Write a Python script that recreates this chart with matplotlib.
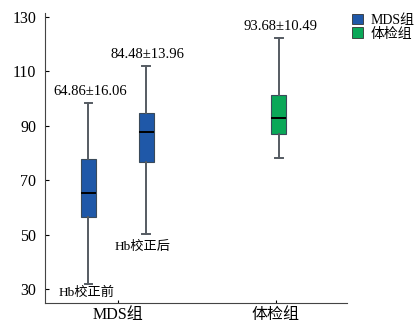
import matplotlib
matplotlib.use("Agg")
import matplotlib.pyplot as plt
from matplotlib.patches import Patch

plt.rcParams['font.family'] = ['Liberation Serif', 'Noto Sans CJK SC', 'DejaVu Sans']

# box statistics (Hb before, Hb after, healthy)
labels = ['Hb校正前', 'Hb校正后', '体检组']
whislo = [32.1, 50.2, 78.3]
q1 = [56.6, 76.6, 87.2]
med = [65.3, 87.6, 92.9]
q3 = [77.8, 94.6, 101.3]
whishi = [98.4, 112.1, 122.4]
mean_sd = ['64.86±16.06', '84.48±13.96', '93.68±10.49']
positions = [0.816, 1.18, 2.02]
colors = ['#1f58a8', '#1f58a8', '#0aa858']

xtick_pos = [1, 2]
xtick_labels = ['MDS组', '体检组']
yticks = [30, 50, 70, 90, 110, 130]
legend_labels = ['MDS组', '体检组']
legend_colors = ['#1f58a8', '#0aa858']

stats = []
for i in range(3):
    stats.append(dict(label=labels[i], whislo=whislo[i], q1=q1[i], med=med[i],
                      q3=q3[i], whishi=whishi[i], fliers=[]))

fig = plt.figure(figsize=(4.15, 3.23), dpi=100)
ax = fig.add_axes([0.108, 0.062, 0.728, 0.898])

bp = ax.bxp(stats, positions=positions, widths=0.095, capwidths=0.05,
            patch_artist=True, showfliers=False,
            whiskerprops=dict(color='#555b62', lw=1.4),
            capprops=dict(color='#555b62', lw=1.4),
            medianprops=dict(color='black', lw=1.4),
            boxprops=dict(edgecolor='#3a4a5a', lw=0.8))
for patch, c in zip(bp['boxes'], colors):
    patch.set_facecolor(c)

# mean ± sd above each top whisker
for x, top, txt in zip(positions, whishi, mean_sd):
    ax.text(x + 0.01, top + 1.8, txt, ha='center', va='bottom', fontsize=10.5)

# labels for the two MDS boxes below lower whiskers
ax.text(positions[1] - 0.02, whislo[1] - 2.5, labels[1], ha='center', va='top', fontsize=9.5)
ax.text(positions[0] - 0.01, whislo[0] - 1.0, labels[0], ha='center', va='top', fontsize=9.5)

ax.set_xlim(0.54, 2.45)
ax.set_ylim(25, 131.5)
ax.set_yticks(yticks)
ax.set_xticks(xtick_pos)
ax.set_xticklabels(xtick_labels, fontsize=11.5)
ax.tick_params(axis='y', direction='in', length=3, labelsize=11.5, pad=6)
ax.tick_params(axis='x', direction='in', length=2, pad=3)
ax.spines['top'].set_visible(False)
ax.spines['right'].set_visible(False)
for s in ['left', 'bottom']:
    ax.spines[s].set_color('#444444')

handles = [Patch(facecolor=c, edgecolor='#333333', lw=0.6) for c in legend_colors]
fig.legend(handles, legend_labels, loc='upper left', bbox_to_anchor=(0.835, 0.975),
           frameon=False, fontsize=10, handlelength=0.8, handleheight=0.8,
           handletextpad=0.5, labelspacing=0.05, borderaxespad=0)

fig.savefig('out.png', dpi=100)
